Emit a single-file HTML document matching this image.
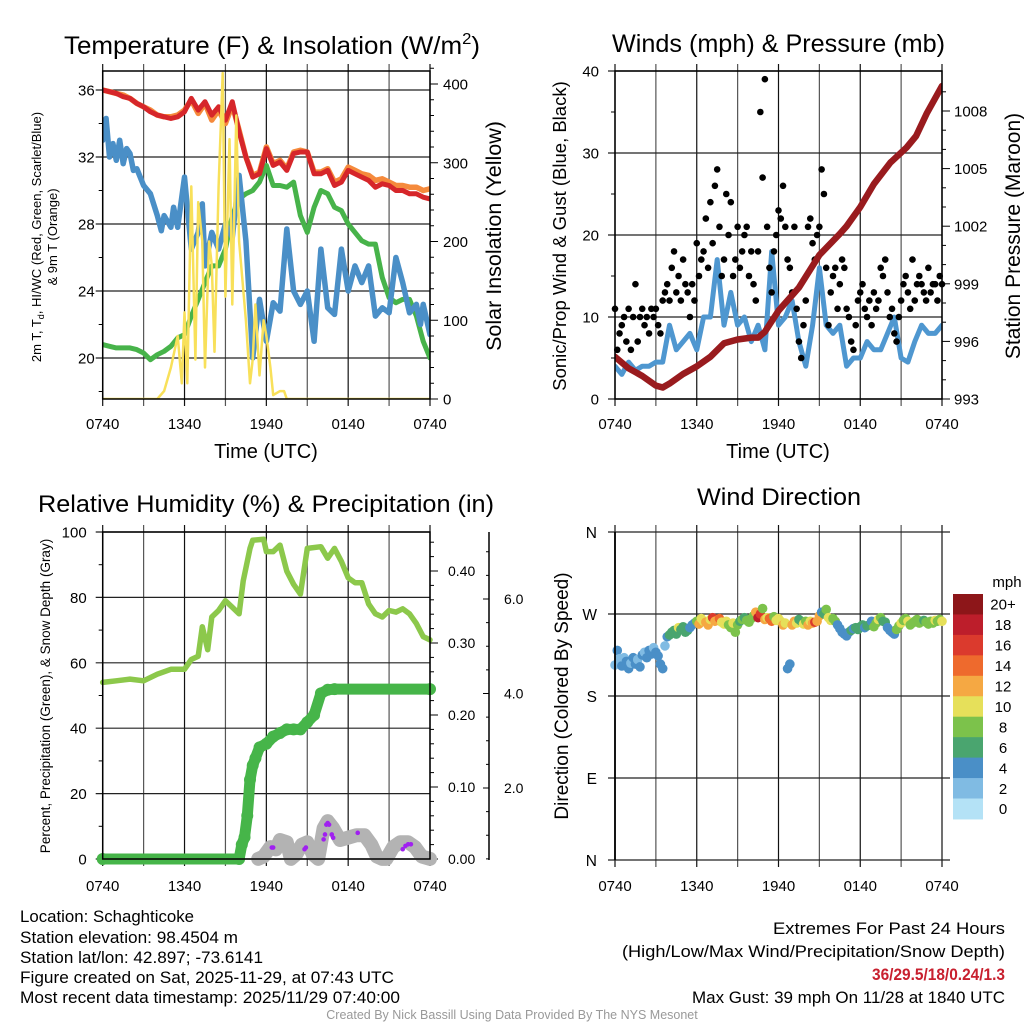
<!DOCTYPE html>
<html><head><meta charset="utf-8"><style>
html,body{margin:0;padding:0;background:#fff;}
svg{display:block;font-family:"Liberation Sans",Arial,sans-serif;}
</style></head><body>
<svg id="svg" width="1024" height="1024" viewBox="0 0 1024 1024" xmlns="http://www.w3.org/2000/svg">
<rect width="1024" height="1024" fill="#fff"/>
<defs>
<clipPath id="c1"><rect x="102.7" y="71" width="327.3" height="328"/></clipPath>
<clipPath id="c2"><rect x="615" y="71" width="327" height="328"/></clipPath>
<clipPath id="c3"><rect x="95" y="532" width="345" height="340"/></clipPath>
<clipPath id="c4"><rect x="605" y="525" width="345" height="340"/></clipPath>
</defs>
<g id="g1"></g>
<g id="g2"></g>
<g id="g3"></g>
<g id="g4"></g>

<text x="64" y="54" font-size="25" textLength="416" lengthAdjust="spacingAndGlyphs">Temperature (F) &amp; Insolation (W/m<tspan font-size="16" dy="-10">2</tspan><tspan dy="10">)</tspan></text>
<text x="612" y="52" font-size="25" textLength="333" lengthAdjust="spacingAndGlyphs">Winds (mph) &amp; Pressure (mb)</text>
<text x="38" y="512" font-size="24" textLength="456" lengthAdjust="spacingAndGlyphs">Relative Humidity (%) &amp; Precipitation (in)</text>
<text x="697" y="505" font-size="24" textLength="164" lengthAdjust="spacingAndGlyphs">Wind Direction</text>

<text x="266" y="458" font-size="20" text-anchor="middle">Time (UTC)</text>
<text x="778" y="458" font-size="20" text-anchor="middle">Time (UTC)</text>

<g transform="translate(41,237) rotate(-90)" font-size="13" text-anchor="middle">
<text x="0" y="0">2m T, T<tspan font-size="9" dy="3">d</tspan><tspan dy="-3">, HI/WC (Red, Green, Scarlet/Blue)</tspan></text>
<text x="0" y="16">&amp; 9m T (Orange)</text></g>
<text transform="translate(501,236) rotate(-90)" font-size="21.5" text-anchor="middle">Solar Insolation (Yellow)</text>
<text transform="translate(566,236) rotate(-90)" font-size="18.5" text-anchor="middle">Sonic/Prop Wind &amp; Gust (Blue, Black)</text>
<text transform="translate(1020,236) rotate(-90)" font-size="21" text-anchor="middle">Station Pressure (Maroon)</text>
<text transform="translate(50,696) rotate(-90)" font-size="13.5" text-anchor="middle">Percent, Precipitation (Green), &amp; Snow Depth (Gray)</text>
<text transform="translate(568,696) rotate(-90)" font-size="19" text-anchor="middle">Direction (Colored By Speed)</text>

<g font-size="16.5" lengthAdjust="spacingAndGlyphs">
<text x="20" y="922" textLength="174" lengthAdjust="spacingAndGlyphs">Location: Schaghticoke</text>
<text x="20" y="943" textLength="218" lengthAdjust="spacingAndGlyphs">Station elevation: 98.4504 m</text>
<text x="20" y="963" textLength="243" lengthAdjust="spacingAndGlyphs">Station lat/lon: 42.897; -73.6141</text>
<text x="20" y="983" textLength="374" lengthAdjust="spacingAndGlyphs">Figure created on Sat, 2025-11-29, at 07:43 UTC</text>
<text x="20" y="1003" textLength="380" lengthAdjust="spacingAndGlyphs">Most recent data timestamp: 2025/11/29 07:40:00</text>
</g>
<g font-size="16.5" text-anchor="end">
<text x="1005" y="934" textLength="232" lengthAdjust="spacingAndGlyphs">Extremes For Past 24 Hours</text>
<text x="1005" y="957" textLength="383" lengthAdjust="spacingAndGlyphs">(High/Low/Max Wind/Precipitation/Snow Depth)</text>
<text x="1005" y="980" fill="#c8202f" font-weight="bold" textLength="133" lengthAdjust="spacingAndGlyphs">36/29.5/18/0.24/1.3</text>
<text x="1005" y="1003" textLength="313" lengthAdjust="spacingAndGlyphs">Max Gust: 39 mph On 11/28 at 1840 UTC</text>
</g>
<text x="512" y="1019" font-size="12.5" fill="#999" text-anchor="middle">Created By Nick Bassill Using Data Provided By The NYS Mesonet</text>
</svg>
<script>
// ===== Panel 1 data =====
const halfHours=[0,0.5,1,1.5,2,2.5,3,3.5,4,4.5,5,5.5,6,6.5,7,7.5,8,8.5,9,9.5,10,10.5,11,11.5,12,12.5,13,13.5,14,14.5,15,15.5,16,16.5,17,17.5,18,18.5,19,19.5,20,20.5,21,21.5,22,22.5,23,23.5,24];
const tempRed=[36,35.9,35.8,35.6,35.5,35.2,35,34.7,34.5,34.4,34.3,34.4,34.7,35.5,34.8,35.3,34.5,35,34.2,35.3,33.5,32,30.8,31,32.5,31.5,31.7,31.2,32.2,32.3,32.3,31,31,31.2,30.3,30.5,31.2,31,30.8,30.6,30.2,30.4,30.3,30,30,29.8,29.8,29.6,29.5];
const tempOrange=[36,35.9,35.8,35.7,35.5,35.2,35,34.8,34.5,34.4,34.4,34.5,34.8,35.4,34.6,35.2,34.2,34.8,34,35.1,33.6,32,30.9,31.1,32.6,31.6,31.8,31.3,32.3,32.4,32.3,31.1,31.1,31.3,30.5,30.7,31.4,31.2,31,30.9,30.6,30.7,30.5,30.3,30.3,30.2,30.2,30,30.1];
const tempGreen=[20.8,20.7,20.6,20.6,20.6,20.5,20.3,19.9,20.2,20.4,20.7,21.2,21.4,22.5,23.5,24.5,25.5,25.5,26.5,28.5,29.5,29.8,30,30.5,31.5,30.3,30.3,30.2,30.5,28.5,27.5,29,30,29.8,29,28.8,28,27.5,27,26.8,26.8,24.8,23.6,23.3,23.5,23.5,22.5,21,20];
const blueHours=[0,0.25,0.5,0.75,1,1.25,1.5,1.75,2,2.25,2.5,3,3.5,4,4.3,4.5,5,5.2,5.5,6,6.5,7,7.3,7.5,8,8.5,9,9.5,10,10.5,11,11.5,12,12.5,13,13.5,14,14.5,15,15.5,16,16.5,17,17.5,18,18.5,19,19.5,20,20.5,21,21.5,22,22.5,23,23.3,23.5,24];
const tempBlue=[33,34.3,32,32.8,31.8,33,31.6,32.5,32.2,31.2,31.3,30.3,29.8,28.5,27.6,28.5,27.8,29,27.8,30.8,26.5,27.5,29.2,25.5,27.5,26.5,28,27.2,30.9,27,20,23.5,21,23.3,22.8,27.7,24,23.2,24,21,26.5,23,22.6,26.5,24,25.5,24.5,25.5,22.5,23,22.7,26,24.5,22.7,23.2,22,23.2,21.4];
const solarHours=[0,4,4.5,5,5.5,5.8,6,6.2,6.5,6.8,7,7.3,7.5,7.8,8,8.2,8.5,8.8,9,9.3,9.5,9.8,10,10.5,10.8,11,11.2,11.5,11.8,12,12.3,12.5,13,13.3,13.5,24];
const solarVals=[0,0,10,40,80,20,110,20,270,50,250,200,40,200,170,60,270,414,130,330,120,360,200,100,20,50,120,30,100,80,40,5,10,10,0,0];
const tempTicks=[20,24,28,32,36];
const solarTicks=[0,100,200,300,400];
const timeLabels=["0740","1340","1940","0140","0740"];
const timeLabelHours=[0,6,12,18,24];

// ===== Panel 2 data =====
const pressHours=[0,1,2,3,3.5,4,5,6,7,8,9,10,10.5,11,12,13,13.5,15,16.5,17,18,19,20.2,21.4,22.1,22.9,24];
const pressVals=[995.2,994.6,994.2,993.7,993.6,993.8,994.3,994.7,995.2,995.9,996.1,996.2,996.2,996.5,997.6,998.4,998.8,1000.5,1001.6,1002,1003,1004.2,1005.3,1006.1,1006.7,1007.9,1009.3];
const windVals=[4,3,4.5,3.5,4,4,4.5,4.5,9,6,7,8,6,10,10,17,9,13,9,10,7,9,6,18,9,10,12,7,4,9,16,9,8,9,4,5,5,7,6,6,8,10,5,4.5,7,9,8,8,9];
const gustVals=[11,6,8,9,10,7, 11,6,10,14,7,10, 11,9,10,8,11,10, 11,9,8,12,13,14, 12,16,18,13,15,12, 17,14,13,10,14,12, 19,15,17,18,22,16, 24,19,26,28,21,15, 17,25,20,24,15,17, 21,16,18,20,21,15, 18,14,12,18,35,27, 39,21,16,13,18,20, 23,22,26,21,17,16, 13,21,11,7,5,9, 12,21,22,19,17,20, 21,28,25,16,9,13, 15,16,11,14,17,16, 11,10,7,6,9,12, 13,14,11,10,12,9, 13,11,12,16,15,17, 13,10,11,8,7,10, 12,14,15,13,11,17, 12,14,15,14,13,12, 16,13,14,14,12,15, 14];
const windTicks=[0,10,20,30,40];
const pressTicks=[993,996,999,1002,1005,1008];

// ===== Panel 3 data =====
const rhHours=[0,1,2,3,4,5,6,6.5,7,7.3,7.7,8,8.5,9,9.5,10,10.3,10.8,11,11.8,12,12.5,13,13.5,14,14.5,15,16,16.5,17,17.5,18,18.5,19,19.5,20,20.5,21,21.5,22,22.5,23,23.5,24];
const rhVals=[54,54.5,55,54.5,56.5,58,58,61,62,71,64,74,76,79,77,75,85,95,97.5,97.8,94,94,96,88,84,81,95,95.5,92,95,91,86,84.5,84.5,78,75,74,76,75.5,76.5,75,72,68,67];
const precipHours=[0,10,10.2,10.4,10.6,10.8,11,11.2,11.5,12,12.5,13,13.5,14,14.5,15,15.5,16,16.5,17,24];
const precipVals=[0,0,0.02,0.03,0.06,0.11,0.13,0.14,0.155,0.16,0.17,0.175,0.18,0.18,0.18,0.19,0.2,0.23,0.235,0.236,0.236];
const snowHours=[11.4,11.8,12.3,12.7,13,13.5,13.8,14.2,14.6,15,15.4,15.8,16.2,16.5,16.9,17.4,18,18.6,19.2,19.7,20.1,20.5,20.8,21.3,21.8,22.4,22.9,23.4,24];
const snowVals=[0.5,0.55,0.75,0.7,0.9,0.85,0.5,0.6,0.8,0.85,0.6,0.5,1.15,1.3,1.15,0.9,0.95,1.0,1.0,0.8,0.55,0.5,0.5,0.75,0.85,0.85,0.75,0.55,0.5];
const purpleHours=[12.4,12.5,14.8,14.9,16.2,16.3,16.4,16.5,16.6,16.8,16.9,18.7,22.0,22.2,22.4,22.6];
const purpleVals=[3.5,3.5,3,3.5,6,7.5,10.5,11,10.5,7.5,6.5,8,3,4,4.5,4.5];
const rhTicks=[0,20,40,60,80,100];
const precipTicks=[0,0.1,0.2,0.3,0.4];
const snowTicks=[2,4,6];

// ===== Panel 4 data =====
const dirVals=[214,230,221,213,222,218, 210,216,222,215,220,212, 225,228,222,230,226,233, 228,224,215,210,235,245, 247,250,252,248,255,253, 256,250,252,255,258,260, 262,259,265,262,261,258, 264,266,262,263,265,261, 259,262,258,255,260,250, 258,262,264,266,263,261, 265,268,272,266,270,276, 264,266,265,262,267,263, 265,262,258,260,210,215, 258,262,260,264,262,259, 262,258,262,260,261,262, 268,272,270,275,266,263, 265,262,258,254,250,248, 246,250,252,254,255,253, 256,258,255,257,258,262, 256,260,264,266,262,261, 255,252,250,248,253,257, 260,263,265,262,258,260, 262,264,260,262,263,261, 259,262,260,263,262,264, 262];
const speedVals=[3,4,3,4,2,4, 4,3,4,4,3,4, 4,3,4,5,4,3, 4,5,4,4,3,4, 6,6,7,6,10,6, 7,6,6,5,5,4, 9,12,11,10,13,12, 11,16,12,13,14,10, 10,11,9,8,10,9, 8,7,8,7,9,8, 9,8,13,18,16,8, 12,10,14,14,9,10, 10,11,12,10,4,4, 12,13,11,6,7,10, 8,12,11,13,16,12, 12,4,6,9,10,11, 8,9,4,4,4,4, 4,5,6,5,6,6, 6,7,5,6,7,4, 8,9,10,8,6,7, 4,4,5,4,8,8, 10,8,9,10,8,9, 8,8,9,8,7,9, 8,8,9,10,8,9, 10];
const dirTickLabels=["N","E","S","W","N"];
const dirTickVals=[0,90,180,270,360];
const cbarLabels=["0","2","4","6","8","10","12","14","16","18","20+"];
const cbarColors=["#b4e2f6","#80bbe3","#4a8fc7","#4aa56f","#7cc24b","#e6e05a","#f5a843","#ee6a2d","#db3a2d","#bd1e2b","#8d1619"];

// ===== helpers =====
const NS="http://www.w3.org/2000/svg";
function mk(parent,tag,attrs){const e=document.createElementNS(NS,tag);for(const k in attrs)e.setAttribute(k,attrs[k]);parent.appendChild(e);return e;}
function linearScale(d0,d1,r0,r1){return v=>r0+(v-d0)*(r1-r0)/(d1-d0);}
function pathD(xs,ys,sx,sy){return xs.map((x,i)=>(i?'L':'M')+sx(x).toFixed(1)+','+sy(ys[i]).toFixed(1)).join('');}
function seqHours(n,step){const a=[];for(let i=0;i<n;i++)a.push(i*step);return a;}

function frame(g,x0,x1,y0,y1,sx,yticks,sy){
  for(let h=0;h<=24;h+=3){const x=sx(h);
    const l=mk(g,'line',{x1:x,x2:x,y1:y0-7,y2:y1+7,stroke:(h%6===0?'#111':'#555'),'stroke-width':1.2});
    
    }
  yticks.forEach(v=>{const y=sy(v);
    const l=mk(g,'line',{x1:x0-7,x2:x1,y1:y,y2:y,stroke:'#222','stroke-width':1.2});
    
    });
}
function border(g,x0,x1,y0,y1){
  const r=mk(g,'rect',{x:x0,y:y0,width:x1-x0,height:y1-y0,fill:'none',stroke:'#000','stroke-width':1.5});
  
  
}
function xLabels(g,sx,y){
  timeLabels.forEach((t,i)=>{const e=mk(g,'text',{x:sx(timeLabelHours[i]),y:y,'font-size':15,'text-anchor':'middle'});e.textContent=t;
    
    });
}
function line(g,clip,xs,ys,sx,sy,color,w,name){
  const p=mk(g,'path',{d:pathD(xs,ys,sx,sy),fill:'none',stroke:color,'stroke-width':w,'stroke-linejoin':'round','stroke-linecap':'round','clip-path':'url(#'+clip+')'});
  
  
  return p;
}

// ===== Panel 1 =====
(function(){
  const g=document.getElementById('g1');
  const x0=102.7,x1=430,y0=71,y1=399;
  const sx=linearScale(0,24,x0,x1);
  const sy=linearScale(20,36,358,90);
  const ss=linearScale(0,400,399,84);
  frame(g,x0,x1,y0,y1,sx,tempTicks,sy);
  for(let v=18;v<=36;v+=2){if(v%4)mk(g,'line',{x1:x0-4,x2:x0,y1:sy(v),y2:sy(v),stroke:'#000'});}
  for(let v=0;v<=420;v+=20){mk(g,'line',{x1:x1,x2:x1+(v%100?4:8),y1:ss(v),y2:ss(v),stroke:'#000'});}
  tempTicks.forEach(v=>{const e=mk(g,'text',{x:x0-8,y:sy(v)+5.5,'font-size':15,'text-anchor':'end'});e.textContent=v;
    
    });
  solarTicks.forEach(v=>{const e=mk(g,'text',{x:x1+13,y:ss(v)+5.5,'font-size':15});e.textContent=v;
    
    });
  xLabels(g,sx,429);
  line(g,'c1',halfHours,tempGreen,sx,sy,'#47b34a',5,'dewpoint-line');
  line(g,'c1',blueHours,tempBlue,sx,sy,'#4a8fc7',5.5,'windchill-line');
  line(g,'c1',halfHours,tempOrange,sx,sy,'#f58a3c',5.5,'temp-9m-line');
  line(g,'c1',halfHours,tempRed,sx,sy,'#d6262a',5,'temp-2m-line');
  line(g,'c1',solarHours,solarVals,sx,ss,'#f8e05a',2.5,'solar-line');
  border(g,x0,x1,y0,y1);
})();

// ===== Panel 2 =====
(function(){
  const g=document.getElementById('g2');
  const x0=615,x1=942,y0=71,y1=399;
  const sx=linearScale(0,24,x0,x1);
  const sy=linearScale(0,40,399,71);
  const sp=linearScale(993,1008,399,111);
  frame(g,x0,x1,y0,y1,sx,windTicks,sy);
  for(let v=5;v<40;v+=10)mk(g,'line',{x1:x0-4,x2:x0,y1:sy(v),y2:sy(v),stroke:'#000'});
  for(let v=993;v<=1009;v+=1)mk(g,'line',{x1:x1,x2:x1+((v-993)%3?4:8),y1:sp(v),y2:sp(v),stroke:'#000'});
  windTicks.forEach(v=>{const e=mk(g,'text',{x:x0-16,y:sy(v)+5.5,'font-size':15,'text-anchor':'end'});e.textContent=v;
    
    });
  pressTicks.forEach(v=>{const e=mk(g,'text',{x:x1+12,y:sp(v)+5.5,'font-size':15});e.textContent=v;
    
    });
  xLabels(g,sx,429);
  line(g,'c2',halfHours,windVals,sx,sy,'#4f97d0',5,'wind-speed-line');
  const gh=seqHours(gustVals.length,1/6);
  gustVals.forEach((v,i)=>{const c=mk(g,'circle',{cx:sx(gh[i]),cy:sy(v),r:3.3,fill:'#000'});
    
    });
  line(g,'c2',pressHours,pressVals,sx,sp,'#991b1e',6.5,'pressure-line');
  border(g,x0,x1,y0,y1);
})();

// ===== Panel 3 =====
(function(){
  const g=document.getElementById('g3');
  const x0=102.7,x1=430,y0=532,y1=859;
  const sx=linearScale(0,24,x0,x1);
  const sy=linearScale(0,100,859,532);
  const spr=linearScale(0,0.4,859,571);
  const ssn=linearScale(2,6,788,599);
  frame(g,x0,x1,y0,y1,sx,rhTicks,sy);
  for(let v=10;v<100;v+=20)mk(g,'line',{x1:x0-4,x2:x0,y1:sy(v),y2:sy(v),stroke:'#000'});
  for(let v=0;v<=0.45;v+=0.02){const major=Math.abs(v*10-Math.round(v*10))<1e-6;mk(g,'line',{x1:x1,x2:x1+(major?8:4),y1:spr(v),y2:spr(v),stroke:'#000'});}
  mk(g,'line',{x1:489,x2:489,y1:532,y2:860,stroke:'#000','stroke-width':1.5});
  for(let v=0;v<=7;v+=0.5){const y=ssn(v);if(y<860&&y>532)mk(g,'line',{x1:489-(v%2?3:6),x2:489,y1:y,y2:y,stroke:'#000'});}
  rhTicks.forEach(v=>{const e=mk(g,'text',{x:x0-16,y:sy(v)+5.5,'font-size':15,'text-anchor':'end'});e.textContent=v;
    
    });
  precipTicks.forEach(v=>{const e=mk(g,'text',{x:x1+18,y:spr(v)+5,'font-size':14});e.textContent=v.toFixed(2);
    
    });
  snowTicks.forEach(v=>{const e=mk(g,'text',{x:504,y:ssn(v)+5,'font-size':14});e.textContent=v.toFixed(1);
    
    });
  xLabels(g,sx,891);
  line(g,'c3',snowHours,snowVals,sx,ssn,'#b3b3b3',14,'snow-depth-line');
  line(g,'c3',rhHours,rhVals,sx,sy,'#8cc84b',5.5,'humidity-line');
  line(g,'c3',precipHours,precipVals,sx,spr,'#46b549',11,'precip-line');
  precipHours.forEach((h,i)=>{const c=mk(g,'circle',{cx:sx(h),cy:spr(precipVals[i]),r:6,fill:'#46b549','clip-path':'url(#c3)'});
    
    });
  purpleHours.forEach((h,i)=>{const c=mk(g,'circle',{cx:sx(h),cy:sy(purpleVals[i]),r:2.3,fill:'#a020f0'});
    
    });
  border(g,x0,x1,y0,y1);
})();

// ===== Panel 4 =====
(function(){
  const g=document.getElementById('g4');
  const x0=615,x1=942,y0=532,y1=860;
  const sx=linearScale(0,24,x0,x1);
  const sy=linearScale(0,360,860,532);
  frame(g,x0,x1+8,y0,y1,sx,dirTickVals,sy);
  dirTickVals.forEach((v,i)=>{const e=mk(g,'text',{x:x0-18,y:sy(v)+6,'font-size':15.5,'text-anchor':'end'});e.textContent=dirTickLabels[i];
    
    });
  xLabels(g,sx,891);
  const dh=seqHours(dirVals.length,1/6);
  dirVals.forEach((d,i)=>{const k=Math.min(10,Math.floor(speedVals[i]/2));
    const c=mk(g,'circle',{cx:sx(dh[i]),cy:sy(d),r:4.8,fill:cbarColors[k]});
    
    });
  mk(g,'line',{x1:x0,x2:x0,y1:y0,y2:y1,stroke:'#000','stroke-width':1.8});
  const cbx=953,cbTop=594,bh=20.45;
  cbarColors.forEach((c,i)=>{const idx=10-i;
    const r=mk(g,'rect',{x:cbx,y:cbTop+i*bh,width:30,height:bh+0.5,fill:cbarColors[idx]});
    
    
    const t=mk(g,'text',{x:1003,y:cbTop+i*bh+bh/2+5.5,'font-size':15,'text-anchor':'middle'});t.textContent=cbarLabels[idx];
    
    });
  const u=mk(g,'text',{x:1007,y:587,'font-size':15,'text-anchor':'middle'});u.textContent='mph';
  
  
})();
</script>
</body></html>
